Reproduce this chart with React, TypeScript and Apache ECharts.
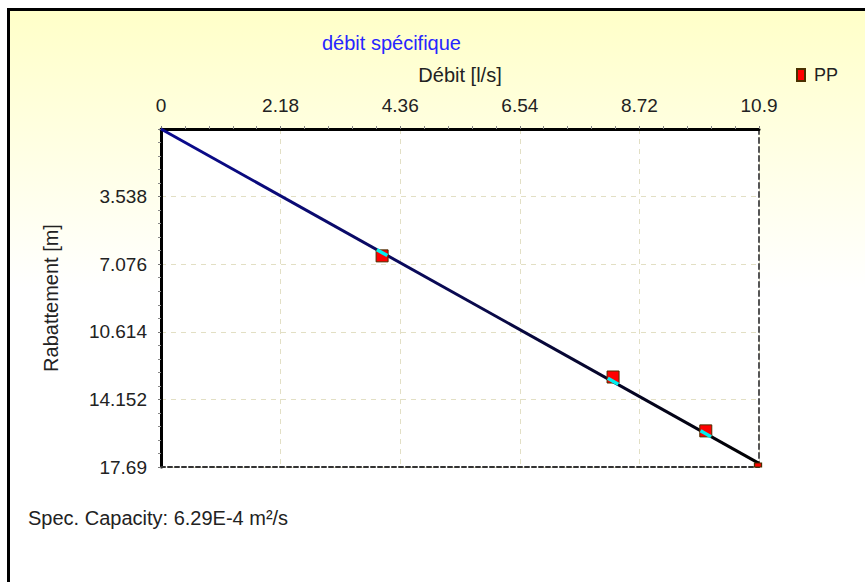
import React, { useEffect, useRef } from "react";
import * as echarts from "echarts";

// ---- data ----
const xTicks = [0, 2.18, 4.36, 6.54, 8.72, 10.9];
const yTicks = [0, 3.538, 7.076, 10.614, 14.152, 17.69];
const ppQ = [4.03, 8.24, 9.93, 10.9];
const ppS = [6.64, 12.98, 15.8, 17.69];
const calcQ = [4.03, 8.24, 9.93];
const calcS = [6.47, 13.2, 15.95];
const fitQ = [0, 10.9];
const fitS = [0, 17.5];
const titleText = "débit spécifique";
const xName = "Débit [l/s]";
const yName = "Rabattement [m]";
const footer = "Spec. Capacity: 6.29E-4 m²/s";

const FONT = '"Liberation Sans", Arial, sans-serif';

const fmt = (ticks: number[]) => (v: number) => {
  const t = ticks.find((k) => Math.abs(k - v) < 1e-6);
  return t === undefined ? "" : String(t);
};

export default function App() {
  const ref = useRef<HTMLDivElement>(null);
  useEffect(() => {
    const chart = echarts.init(ref.current!, null, { renderer: "svg" });
    const lastIdx = ppQ.length - 1;
    chart.setOption({
      animation: false,
      backgroundColor: "#ffffff",
      title: {
        text: titleText,
        left: 322,
        top: 33,
        padding: 0,
        textStyle: { fontSize: 20, fontWeight: "normal", color: "#2626ff", fontFamily: FONT },
      },
      legend: {
        data: [{ name: "PP", icon: "rect" }],
        left: 796,
        top: 66,
        padding: 0,
        itemWidth: 8,
        itemHeight: 12,
        textStyle: { fontSize: 18, color: "#222", fontFamily: FONT, padding: [0, 0, 0, 4] },
      },
      grid: {
        left: 161,
        top: 129,
        width: 598,
        height: 338,
        show: true,
        backgroundColor: "#ffffff",
        borderWidth: 0,
      },
      xAxis: [
        {
          type: "value",
          position: "top",
          min: 0,
          max: 10.9,
          interval: 2.18,
          name: xName,
          nameLocation: "middle",
          nameGap: 44,
          nameTextStyle: { fontSize: 20, color: "#222", fontFamily: FONT },
          axisLine: { onZero: false, lineStyle: { color: "#000", width: 3 } },
          axisTick: { show: true, length: 3, lineStyle: { color: "#777" } },
          minorTick: { show: true, splitNumber: 5, length: 3, lineStyle: { color: "#888" } },
          axisLabel: { formatter: fmt(xTicks), margin: 14, fontSize: 19, color: "#222", fontFamily: FONT },
          splitLine: { show: true, lineStyle: { type: [5, 5], color: "#e2dfc4", width: 1 } },
        },
        {
          type: "value",
          position: "bottom",
          min: 0,
          max: 10.9,
          axisLine: { show: true, onZero: false, lineStyle: { color: "#333", width: 2, type: [4, 3] } },
          axisTick: { show: false },
          axisLabel: { show: false },
          splitLine: { show: false },
        },
      ],
      yAxis: [
        {
          type: "value",
          position: "left",
          inverse: true,
          min: 0,
          max: 17.69,
          interval: 3.538,
          name: yName,
          nameLocation: "middle",
          nameGap: 100,
          nameTextStyle: { fontSize: 20, color: "#222", fontFamily: FONT },
          axisLine: { onZero: false, lineStyle: { color: "#000", width: 3 } },
          axisTick: { show: true, length: 3, lineStyle: { color: "#777" } },
          minorTick: { show: true, splitNumber: 5, length: 3, lineStyle: { color: "#888" } },
          axisLabel: {
            formatter: fmt(yTicks),
            showMinLabel: false,
            margin: 14,
            fontSize: 19,
            color: "#222",
            fontFamily: FONT,
          },
          splitLine: { show: true, lineStyle: { type: [5, 5], color: "#e2dfc4", width: 1 } },
        },
        {
          type: "value",
          position: "right",
          inverse: true,
          min: 0,
          max: 17.69,
          axisLine: { show: true, onZero: false, lineStyle: { color: "#555", width: 2, type: [5, 4] } },
          axisTick: { show: false },
          axisLabel: { show: false },
          splitLine: { show: false },
        },
      ],
      graphic: [
        {
          type: "rect",
          z: -100,
          shape: { x: 8.5, y: 9.5, width: 900, height: 620 },
          style: {
            fill: new echarts.graphic.LinearGradient(0, 0, 0, 1, [
              { offset: 0, color: "#ffffc8" },
              { offset: 0.45, color: "#ffffff" },
              { offset: 1, color: "#ffffff" },
            ]),
            stroke: "#000",
            lineWidth: 3,
          },
          silent: true,
        },
        {
          type: "text",
          left: 28,
          top: 508,
          style: { text: footer, font: `20px ${FONT}`, fill: "#222" },
        },
      ],
      series: [
        {
          type: "line",
          name: "fit",
          xAxisIndex: 0,
          yAxisIndex: 0,
          data: fitQ.map((q, i) => [q, fitS[i]]),
          symbol: "none",
          lineStyle: {
            width: 3,
            color: new echarts.graphic.LinearGradient(0, 0, 1, 0, [
              { offset: 0, color: "#0a0a90" },
              { offset: 0.5, color: "#0a0a50" },
              { offset: 1, color: "#000000" },
            ]),
          },
          z: 2,
        },
        {
          type: "scatter",
          name: "PP",
          xAxisIndex: 0,
          yAxisIndex: 0,
          data: ppQ.map((q, i) =>
            i === lastIdx
              ? { value: [q, ppS[i]], symbolSize: [7, 4], symbolOffset: [-1, -2] }
              : [q, ppS[i]]
          ),
          symbol: "rect",
          symbolSize: 12,
          itemStyle: { color: "#ff0000", borderColor: "#4a3000", borderWidth: 1, opacity: 1 },
          z: 3,
        },
        {
          type: "scatter",
          name: "calc",
          xAxisIndex: 0,
          yAxisIndex: 0,
          data: calcQ.map((q, i) => [q, calcS[i]]),
          symbol: "rect",
          symbolSize: [12, 3.5],
          symbolRotate: -29.5,
          itemStyle: { color: "#00f0f0", opacity: 1 },
          z: 4,
        },
      ],
    });
    return () => chart.dispose();
  }, []);
  return (
    <div
      ref={ref}
      style={{ position: "absolute", left: 0, top: 0, width: 865, height: 582 }}
    />
  );
}
